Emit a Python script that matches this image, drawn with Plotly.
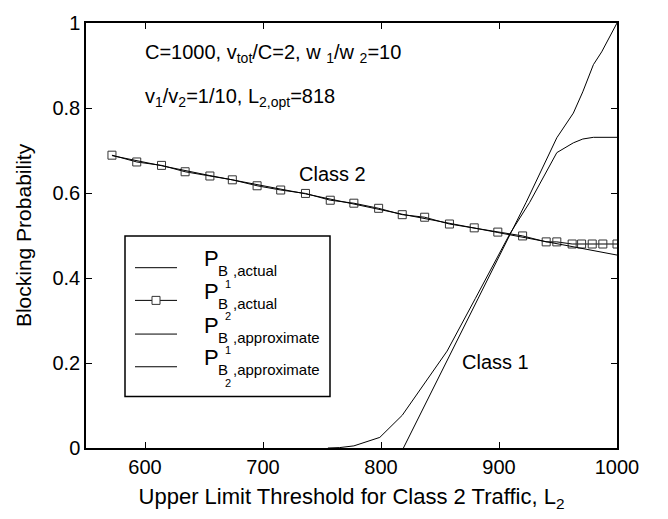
import plotly.graph_objects as go

# ---- data ----
c2_x = [572, 593, 614, 634, 655, 674, 695, 715, 736, 757, 777, 798, 818,
        837, 858, 879, 899, 920, 940, 949, 962, 970, 979, 988, 1000]
c2_actual = [0.689, 0.673, 0.665, 0.650, 0.640, 0.631, 0.617, 0.607, 0.599,
             0.583, 0.576, 0.564, 0.549, 0.543, 0.527, 0.518, 0.508, 0.499,
             0.485, 0.485, 0.480, 0.480, 0.480, 0.480, 0.480]

c2_approx_x = [572, 655, 736, 818, 899, 940, 970, 1000]
c2_approx = [0.688, 0.641, 0.598, 0.550, 0.507, 0.486, 0.470, 0.454]

c1_x = [755, 765, 777, 799, 818, 837, 856, 880, 909, 926, 949, 963, 971, 980, 1000]
c1_actual = [0.0, 0.001, 0.005, 0.025, 0.077, 0.151, 0.228, 0.352, 0.503,
             0.578, 0.695, 0.718, 0.727, 0.731, 0.731]

c1_approx_x = [819, 870, 909, 923, 949, 963, 971, 980, 987, 1000]
c1_approx = [0.0, 0.283, 0.50, 0.578, 0.730, 0.788, 0.838, 0.902, 0.932, 1.0]

x_ticks = [600, 700, 800, 900, 1000]
y_ticks = [0, 0.2, 0.4, 0.6, 0.8, 1]
y_ticklabels = ["0", "0.2", "0.4", "0.6", "0.8", "1"]

legend_rows = [("1", ",actual", False), ("2", ",actual", True),
               ("1", ",approximate", False), ("2", ",approximate", False)]

FONT = "Liberation Sans, Arial, sans-serif"
FS = 20
W, H = 668, 519
ML, MR, MT, MB = 86, 51, 19, 71
PW, PH = W - ML - MR, H - MT - MB


def px(xp):
    return (xp - ML) / PW


def py(yp):
    return (H - MB - yp) / PH


fig = go.Figure()
line = dict(color="black", width=1)
marker = dict(symbol="square-open", size=8, color="#333", line=dict(width=1, color="#333"))
fig.add_trace(go.Scatter(x=c1_x, y=c1_actual, mode="lines", line=line, name="PB1,actual"))
fig.add_trace(go.Scatter(x=c2_x, y=c2_actual, mode="lines+markers", line=line,
                         marker=marker, name="PB2,actual"))
fig.add_trace(go.Scatter(x=c1_approx_x, y=c1_approx, mode="lines", line=line,
                         name="PB1,approximate"))
fig.add_trace(go.Scatter(x=c2_approx_x, y=c2_approx, mode="lines", line=line,
                         name="PB2,approximate"))

txt = dict(family=FONT, size=FS, color="black")
ann = dict(xref="x", yref="y", showarrow=False, font=txt, xanchor="left", yanchor="middle")
fig.add_annotation(x=729, y=0.645, text="Class 2", **ann)
fig.add_annotation(x=867, y=0.203, text="Class 1", **ann)
pann = dict(xref="paper", yref="paper", showarrow=False, xanchor="left", yanchor="middle")
fig.add_annotation(x=px(143), y=py(49.5),
                   text="C=1000, v<sub>tot</sub>/C=2, w <sub>1</sub>/w <sub>2</sub>=10",
                   font=txt, **pann)
fig.add_annotation(x=px(143), y=py(94),
                   text="v<sub>1</sub>/v<sub>2</sub>=1/10, L<sub>2,opt</sub>=818",
                   font=txt, **pann)

# ---- hand-drawn legend box (matches reference layout) ----
fig.add_shape(type="rect", xref="paper", yref="paper", x0=px(125), x1=px(330),
              y0=py(396), y1=py(234), line=dict(color="black", width=1.5),
              fillcolor="white", layer="above")
row_y = [266, 299, 333, 366]
for (digit, suffix, has_marker), ly in zip(legend_rows, row_y):
    fig.add_shape(type="line", xref="paper", yref="paper", x0=px(135), x1=px(177),
                  y0=py(ly), y1=py(ly), line=dict(color="black", width=1), layer="above")
    if has_marker:
        fig.add_shape(type="rect", xref="paper", yref="paper",
                      xsizemode="pixel", ysizemode="pixel",
                      xanchor=px(156), yanchor=py(ly), x0=-4, x1=4, y0=-4, y1=4,
                      line=dict(color="#333", width=1), fillcolor="white", layer="above")
    fig.add_annotation(x=px(202), y=py(ly - 9), text="P",
                       font=dict(family=FONT, size=22, color="black"), **pann)
    fig.add_annotation(x=px(216), y=py(ly + 3), text="B",
                       font=dict(family=FONT, size=15, color="black"), **pann)
    fig.add_annotation(x=px(231), y=py(ly + 3), text=suffix,
                       font=dict(family=FONT, size=15, color="black"), **pann)
    fig.add_annotation(x=px(228), y=py(ly + 16), text=digit, xref="paper", yref="paper",
                       showarrow=False, xanchor="center", yanchor="middle",
                       font=dict(family=FONT, size=11, color="black"))

axis_common = dict(showline=True, linecolor="black", linewidth=1.5, mirror="ticks",
                   ticks="inside", ticklen=6, tickcolor="black", tickwidth=1,
                   showgrid=False, zeroline=False,
                   tickfont=dict(family=FONT, size=FS, color="black"))
fig.update_xaxes(range=[550, 1000], tickvals=x_ticks,
                 title=dict(text="Upper Limit Threshold for Class 2 Traffic, L<sub>2</sub>",
                            font=dict(family=FONT, size=22, color="black"), standoff=12),
                 **axis_common)
fig.update_yaxes(range=[0, 1], tickvals=y_ticks, ticktext=y_ticklabels,
                 title=dict(text="Blocking Probability",
                            font=dict(family=FONT, size=21, color="black"), standoff=15),
                 **axis_common)

fig.update_layout(width=W, height=H, margin=dict(l=ML, r=MR, t=MT, b=MB),
                  paper_bgcolor="white", plot_bgcolor="white",
                  font=txt, showlegend=False)

fig.write_html("out.html")
